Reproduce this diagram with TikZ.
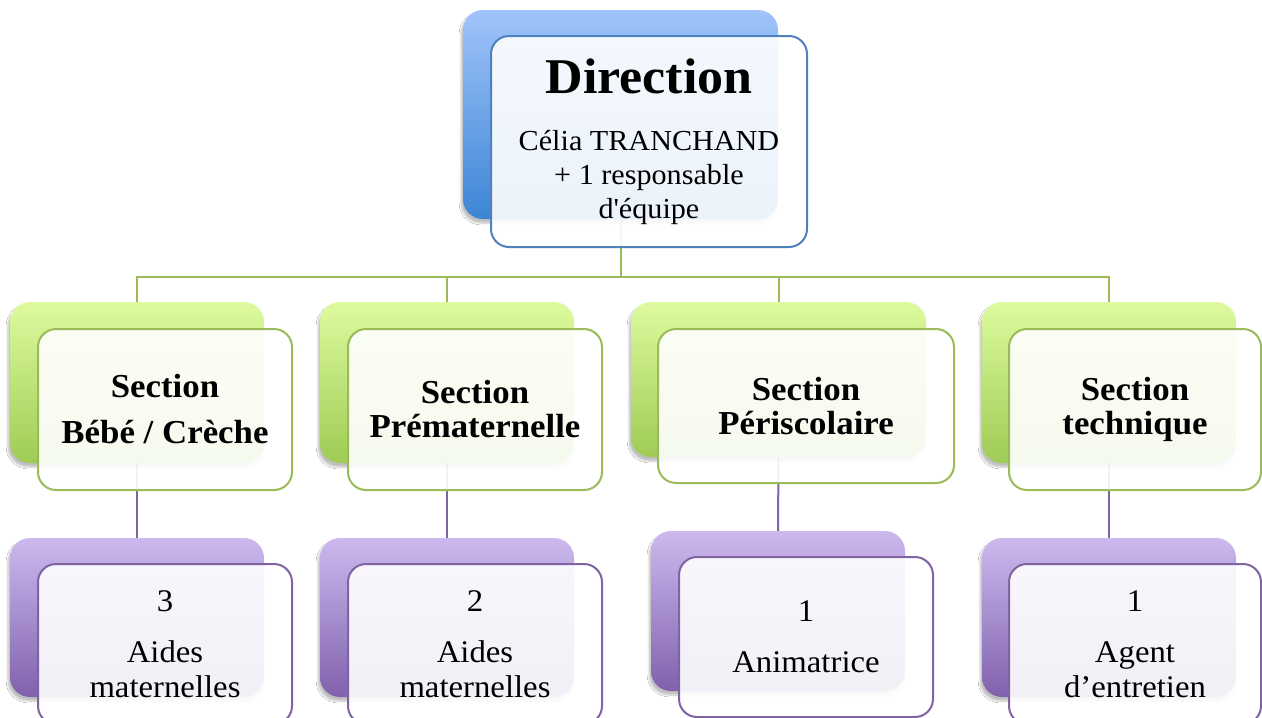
\documentclass[tikz,border=0pt]{standalone}
\usepackage{fontspec}
\setmainfont[FakeStretch=1.04]{Liberation Serif}
\usetikzlibrary{shadows.blur}
\definecolor{bTop}{HTML}{A0C4FA}
\definecolor{bBot}{HTML}{3C85D5}
\definecolor{bLine}{HTML}{4F81BD}
\definecolor{gTop}{HTML}{DDFB9E}
\definecolor{gBot}{HTML}{9FCB55}
\definecolor{gLine}{HTML}{9BBB59}
\definecolor{pTop}{HTML}{CCB9EE}
\definecolor{pBot}{HTML}{8061AC}
\definecolor{pLine}{HTML}{8064A2}
\pgfdeclarelayer{bg}
\pgfsetlayers{bg,main}
\begin{document}
\begin{tikzpicture}[x={(1pt,0pt)}, y={(0pt,-1pt)},
  bk/.style={rounded corners=20pt, minimum width=254pt, minimum height=160pt, inner sep=0pt, draw=none,
    blur shadow={shadow xshift=-2pt, shadow yshift=-4pt, shadow opacity=25, shadow blur steps=6}},
  blueback/.style={bk, top color=bTop, bottom color=bBot},
  greenback/.style={bk, top color=gTop, bottom color=gBot},
  purpleback/.style={bk, top color=pTop, bottom color=pBot},
  fr/.style={rounded corners=18pt, minimum width=254pt, minimum height=160pt, inner sep=0pt,
    fill=white, fill opacity=0.9, text opacity=1, line width=2pt, align=center},
  bluefront/.style={fr, draw=bLine, font=\fontsize{29}{34}\selectfont},
  greenfront/.style={fr, draw=gLine, font=\fontsize{33.5}{34}\selectfont\bfseries},
  purplefront/.style={fr, draw=pLine, font=\fontsize{31.5}{35}\selectfont},
  gconn/.style={draw=gLine, line width=2pt},
  pconn/.style={draw=pLine, line width=2pt}
]
\useasboundingbox (0,0) rectangle (1262,718);

% top
\node[blueback, minimum width=315pt, minimum height=209pt] (dirB) at (620.5,114.5) {};
\node[bluefront, minimum width=316pt, minimum height=211pt] (dir) at (649,141.5)
  {{\fontsize{50}{60}\selectfont\bfseries Direction}\\[23pt]Célia TRANCHAND\\+ 1 responsable\\d\textquotesingle équipe};

% sections
\node[greenback, minimum height=161pt] (s1B) at (137,382.5) {};
\node[greenfront, minimum height=161pt] (s1) at (165,409.5) {Section\\[12pt]Bébé / Crèche};
\node[greenback, minimum height=161pt] (s2B) at (447,382.5) {};
\node[greenfront, minimum height=161pt] (s2) at (475,409.5) {Section\\Prématernelle};
\node[greenback, minimum width=295pt, minimum height=155pt] (s3B) at (778.5,379.5) {};
\node[greenfront, minimum width=296pt, minimum height=154pt] (s3) at (806,406) {Section\\Périscolaire};
\node[greenback, minimum height=161pt] (s4B) at (1109,382.5) {};
\node[greenfront, minimum width=252pt, minimum height=161pt] (s4) at (1135,409.5) {Section\\technique};

% staff
\node[purpleback, minimum height=159pt] (p1B) at (137,617.5) {};
\node[purplefront] (p1) at (165,644) {3\\[16pt]Aides\\maternelles};
\node[purpleback, minimum height=159pt] (p2B) at (447,617.5) {};
\node[purplefront] (p2) at (475,644) {2\\[16pt]Aides\\maternelles};
\node[purpleback] (p3B) at (778,611) {};
\node[purplefront] (p3) at (806,637) {1\\[16pt]Animatrice};
\node[purpleback, minimum height=159pt] (p4B) at (1109,617.5) {};
\node[purplefront, minimum width=252pt] (p4) at (1135,644) {1\\[16pt]Agent\\d’entretien};

\coordinate (hub) at (620.5,277);
\begin{pgfonlayer}{bg}
  \fill[white] (0,0) rectangle (1262,718);
  \draw[gconn] (dirB.south) -- (hub);
  \draw[gconn] (hub) -| (s1B.north);
  \draw[gconn] (hub) -| (s2B.north);
  \draw[gconn] (hub) -| (s3B.north);
  \draw[gconn] (hub) -| (s4B.north);
  \draw[pconn] (s1B.south) -- (p1B.north);
  \draw[pconn] (s2B.south) -- (p2B.north);
  \draw[pconn] (s3B.south) -- (p3B.north);
  \draw[pconn] (s4B.south) -- (p4B.north);
\end{pgfonlayer}
\end{tikzpicture}
\end{document}
